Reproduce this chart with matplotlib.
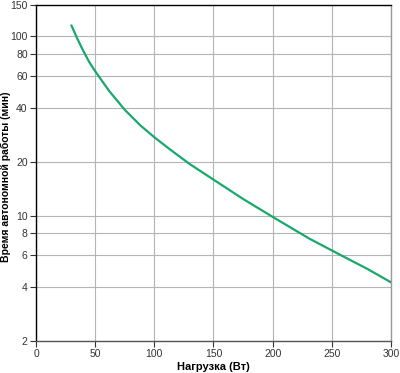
import numpy as np
import matplotlib.pyplot as plt
from matplotlib.ticker import FixedLocator, NullLocator

# данные
load_w = [30, 35, 40, 45, 50, 62, 75, 88, 100, 113, 130, 150, 175, 200, 231, 255, 280, 300]
runtime_min = [115, 97, 83, 72, 64, 49.5, 39, 32, 27.4, 23.5, 19.4, 15.9, 12.4, 9.85, 7.45, 6.15, 5.05, 4.25]

x_ticks = [0, 50, 100, 150, 200, 250, 300]
y_ticks = [2, 4, 6, 8, 10, 20, 40, 60, 80, 100, 150]

plt.rcParams['font.family'] = ['Liberation Sans', 'DejaVu Sans']

fig = plt.figure(figsize=(4.0, 3.73), dpi=100)
ax = fig.add_axes([0.09, 0.0858, 0.8875, 0.901])

ax.plot(load_w, runtime_min, color='#19a86c', lw=1.6, zorder=3)

ax.set_yscale('log')
ax.set_xlim(0, 300)
ax.set_ylim(2, 150)
ax.xaxis.set_major_locator(FixedLocator(x_ticks))
ax.yaxis.set_major_locator(FixedLocator(y_ticks))
ax.yaxis.set_minor_locator(NullLocator())
ax.set_yticklabels([str(v) for v in y_ticks])
ax.tick_params(labelsize=7.5, length=4, width=0.8, colors='#333333', pad=2)

ax.grid(True, color='#b4b4b4', lw=0.8)
ax.set_axisbelow(True)

ax.spines['left'].set_color('black')
ax.spines['top'].set_color('black')
ax.spines['bottom'].set_color('#555555')
ax.spines['right'].set_color('#999999')
for s in ax.spines.values():
    s.set_linewidth(1.0)

ax.set_xlabel('Нагрузка (Вт)', fontsize=8, fontweight='bold', labelpad=2)
ax.set_ylabel('Время автономной работы (мин)', fontsize=7.5, fontweight='bold')
ax.yaxis.set_label_coords(-0.07, 0.49)

fig.savefig('out.png', dpi=100)
